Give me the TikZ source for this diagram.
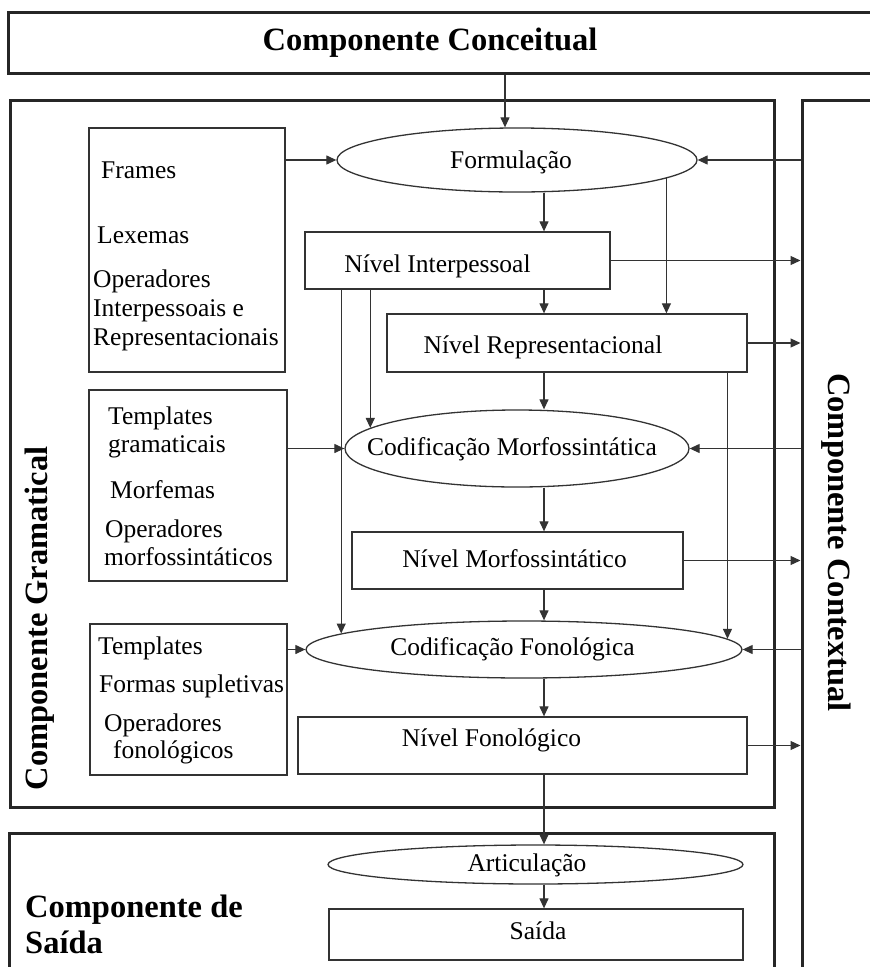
\documentclass[tikz,border=0pt]{standalone}
\usepackage{fontspec}
\setmainfont{Liberation Serif}
\usetikzlibrary{shapes.geometric, arrows.meta}

\begin{document}
\begin{tikzpicture}[
    x=1pt, y=-1pt,
    comp/.style={rectangle, draw=black!85, line width=3pt, inner sep=0pt},
    lvl/.style={rectangle, draw=black!80, line width=1.3pt, inner sep=0pt},
    proc/.style={ellipse, draw=black!80, line width=1.3pt, inner sep=0pt},
    item/.style={anchor=base west, inner sep=0pt, font=\fontsize{25.5}{28}\selectfont},
    txt/.style={anchor=base, inner sep=0pt, font=\fontsize{25.5}{28}\selectfont},
    head/.style={inner sep=0pt, font=\fontsize{32.5}{35}\selectfont\bfseries},
    arr/.style={-{Triangle[length=10pt, width=9pt]}, line width=1.2pt, color=black!80}
]
\useasboundingbox (0,0) rectangle (870,967);

% Components
\node[comp, minimum width=882pt, minimum height=61pt] (conceitual) at (449,42.5) {};
\node[comp, minimum width=764pt, minimum height=707pt] (gramatical) at (392,453.5) {};
\node[comp, minimum width=98pt, minimum height=900pt] (contextual) at (851,550) {};
\node[comp, minimum width=765pt, minimum height=167pt] (saidacomp) at (391.5,916.5) {};

\node[head, anchor=base] (conceitual-t) at (430,50) {Componente Conceitual};
\node[head, rotate=90] (gramatical-t) at (40,618.5) {Componente Gramatical};
\node[head, rotate=-90] (contextual-t) at (836,542.5) {Componente Contextual};
\node[head, anchor=base west] (saidacomp-t1) at (25,917) {Componente de};
\node[head, anchor=base west] (saidacomp-t2) at (25,953) {Saída};

% Stores
\node[lvl, minimum width=196pt, minimum height=244pt] (lexbox) at (187,250) {};
\node[lvl, minimum width=198pt, minimum height=191pt] (morfbox) at (188,485.5) {};
\node[lvl, minimum width=197pt, minimum height=151pt] (fonbox) at (188.5,699.5) {};

\foreach \t/\xx/\yy [count=\i] in {Frames/101/178, Lexemas/97/243, Operadores/93/287,
    Interpessoais e/93/316, Representacionais/93/345}
    \node[item] (lex-\i) at (\xx,\yy) {\t};
\foreach \t/\xx/\yy [count=\i] in {Templates/108/424, gramaticais/108/452, Morfemas/110/498,
    Operadores/105/537, morfossintáticos/104/565}
    \node[item] (morf-\i) at (\xx,\yy) {\t};
\foreach \t/\xx/\yy [count=\i] in {Templates/98/654, Formas supletivas/99/692,
    Operadores/104/731, fonológicos/113/758}
    \node[item] (fon-\i) at (\xx,\yy) {\t};

% Levels and operations
\node[proc, minimum width=360pt, minimum height=64pt] (formulacao) at (517,160) {};
\node[lvl, minimum width=305pt, minimum height=57pt] (interp) at (457.5,260.5) {};
\node[lvl, minimum width=360pt, minimum height=58pt] (repres) at (567,343) {};
\node[proc, minimum width=344pt, minimum height=77pt] (codmorf) at (517,448.5) {};
\node[lvl, minimum width=331pt, minimum height=57pt] (nivmorf) at (517.5,560.5) {};
\node[proc, minimum width=436pt, minimum height=57pt] (codfon) at (524,649.5) {};
\node[lvl, minimum width=449pt, minimum height=57pt] (nivfon) at (522.5,745.5) {};
\node[proc, minimum width=415pt, minimum height=39pt] (artic) at (535.5,864.5) {};
\node[lvl, minimum width=414pt, minimum height=51pt] (saida) at (536,934.5) {};

\node[txt] (formulacao-t) at (511,168) {Formulação};
\node[txt] (interp-t) at (437.5,272) {Nível Interpessoal};
\node[txt] (repres-t) at (543,353) {Nível Representacional};
\node[txt] (codmorf-t) at (512,455) {Codificação Morfossintática};
\node[txt] (nivmorf-t) at (514.5,567) {Nível Morfossintático};
\node[txt] (codfon-t) at (512.5,655) {Codificação Fonológica};
\node[txt] (nivfon-t) at (491.5,746) {Nível Fonológico};
\node[txt] (artic-t) at (527,871) {Articulação};
\node[txt] (saida-t) at (538,939) {Saída};

\coordinate (cin) at (505,0);
\coordinate (spine) at (544,0);

% Main flow
\draw[arr] (conceitual.south -| cin) -- (formulacao.north -| cin);
\draw[arr] (formulacao.south -| spine) -- (interp.north -| spine);
\draw[arr] (interp.south -| spine) -- (repres.north -| spine);
\draw[arr] (repres.south -| spine) -- (codmorf.north -| spine);
\draw[arr] (codmorf.south -| spine) -- (nivmorf.north -| spine);
\draw[arr] (nivmorf.south -| spine) -- (codfon.north -| spine);
\draw[arr] (codfon.south -| spine) -- (nivfon.north -| spine);
\draw[arr] (nivfon.south -| spine) -- (artic.north -| spine);
\draw[arr] (artic.south -| spine) -- (saida.north -| spine);

% Side paths
\draw[arr] (formulacao.-7.5) -- (formulacao.-7.5 |- repres.north);
\draw[arr] (codmorf.172.9 |- interp.south) -- (codmorf.172.9);
\draw[arr] (codfon.175.5 |- interp.south) -- (codfon.175.5);
\draw[arr] (codfon.3.34 |- repres.south) -- (codfon.3.34);

% Stores into operations
\draw[arr] (lexbox.east |- formulacao.west) -- (formulacao.west);
\draw[arr] (morfbox.east |- codmorf.west) -- (codmorf.west);
\draw[arr] (fonbox.east |- codfon.west) -- (codfon.west);

% Contextual component
\draw[arr] (contextual.west |- formulacao.east) -- (formulacao.east);
\draw[arr] (contextual.west |- codmorf.east) -- (codmorf.east);
\draw[arr] (contextual.west |- codfon.east) -- (codfon.east);
\draw[arr] (interp.east) -- (interp.east -| contextual.west);
\draw[arr] (repres.east) -- (repres.east -| contextual.west);
\draw[arr] (nivmorf.east) -- (nivmorf.east -| contextual.west);
\draw[arr] (nivfon.east) -- (nivfon.east -| contextual.west);

\end{tikzpicture}
\end{document}
